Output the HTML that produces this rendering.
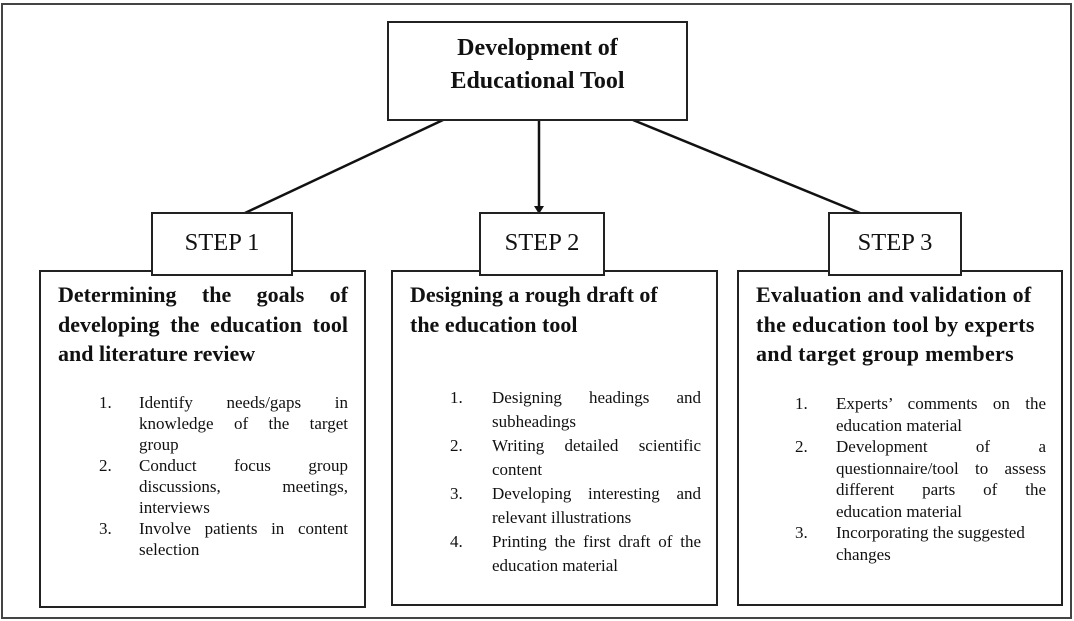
<!DOCTYPE html>
<html><head><meta charset="utf-8"><style>
body{margin:0;width:1074px;height:621px;background:#fff;position:relative;overflow:hidden;font-family:"Liberation Serif",serif;color:#111}
.b{position:absolute;border:2px solid #222;background:#fff;box-sizing:border-box}
.h{position:absolute;font-weight:bold;font-size:22px;line-height:29.5px;white-space:nowrap}
.h div,.t div{white-space:nowrap}
.j{text-align:justify;text-align-last:justify}
.t{position:absolute;font-size:17px}
.n{position:absolute}
.s{font-size:24.5px;text-align:center;line-height:58px}
</style></head><body>
<div class="b" style="left:1px;top:3px;width:1071px;height:616px;border-color:#444"></div>
<svg style="position:absolute;left:0;top:0" width="1074" height="621">
<line x1="443" y1="120" x2="245" y2="213" stroke="#111" stroke-width="2.5"/>
<line x1="633" y1="120" x2="860" y2="213" stroke="#111" stroke-width="2.5"/>
<line x1="539" y1="120" x2="539" y2="207" stroke="#111" stroke-width="2.5"/>
<polygon points="534,206 544,206 539,214" fill="#111"/>
</svg>
<div class="b" style="left:387px;top:21px;width:301px;height:100px;text-align:center;font-weight:bold;font-size:24px;line-height:33px;padding-top:9px">Development of<br>Educational Tool</div>

<div class="b" style="left:39px;top:270px;width:327px;height:338px"></div>
<div class="b" style="left:391px;top:270px;width:327px;height:336px"></div>
<div class="b" style="left:737px;top:270px;width:326px;height:336px"></div>
<div class="b s" style="left:151px;top:212px;width:142px;height:64px">STEP 1</div>
<div class="b s" style="left:479px;top:212px;width:126px;height:64px">STEP 2</div>
<div class="b s" style="left:828px;top:212px;width:134px;height:64px">STEP 3</div>

<div class="h" style="left:58px;top:280px;width:290px"><div class="j">Determining the goals of</div><div class="j">developing the education tool</div><div>and literature review</div></div>
<div class="h" style="left:410px;top:280px;width:290px"><div>Designing a rough draft of</div><div>the education tool</div></div>
<div class="h" style="left:756px;top:280px;width:290px;letter-spacing:0.3px"><div>Evaluation and validation of</div><div>the education tool by experts</div><div>and target group members</div></div>

<div class="t" style="left:139px;top:392px;width:209px;line-height:21px">
<span class="n" style="left:-40px;top:0">1.</span><span class="n" style="left:-40px;top:63px">2.</span><span class="n" style="left:-40px;top:126px">3.</span>
<div class="j">Identify needs/gaps in</div><div class="j">knowledge of the target</div><div>group</div>
<div class="j">Conduct focus group</div><div class="j">discussions, meetings,</div><div>interviews</div>
<div class="j">Involve patients in content</div><div>selection</div>
</div>
<div class="t" style="left:492px;top:386px;width:209px;line-height:24px">
<span class="n" style="left:-42px;top:0">1.</span><span class="n" style="left:-42px;top:48px">2.</span><span class="n" style="left:-42px;top:96px">3.</span><span class="n" style="left:-42px;top:144px">4.</span>
<div class="j">Designing headings and</div><div>subheadings</div>
<div class="j">Writing detailed scientific</div><div>content</div>
<div class="j">Developing interesting and</div><div>relevant illustrations</div>
<div class="j">Printing the first draft of the</div><div>education material</div>
</div>
<div class="t" style="left:836px;top:393px;width:210px;line-height:21.5px">
<span class="n" style="left:-41px;top:0">1.</span><span class="n" style="left:-41px;top:43px">2.</span><span class="n" style="left:-41px;top:129px">3.</span>
<div class="j">Experts’ comments on the</div><div>education material</div>
<div class="j">Development of a</div><div class="j">questionnaire/tool to assess</div><div class="j">different parts of the</div><div>education material</div>
<div>Incorporating the suggested</div><div>changes</div>
</div>
</body></html>
